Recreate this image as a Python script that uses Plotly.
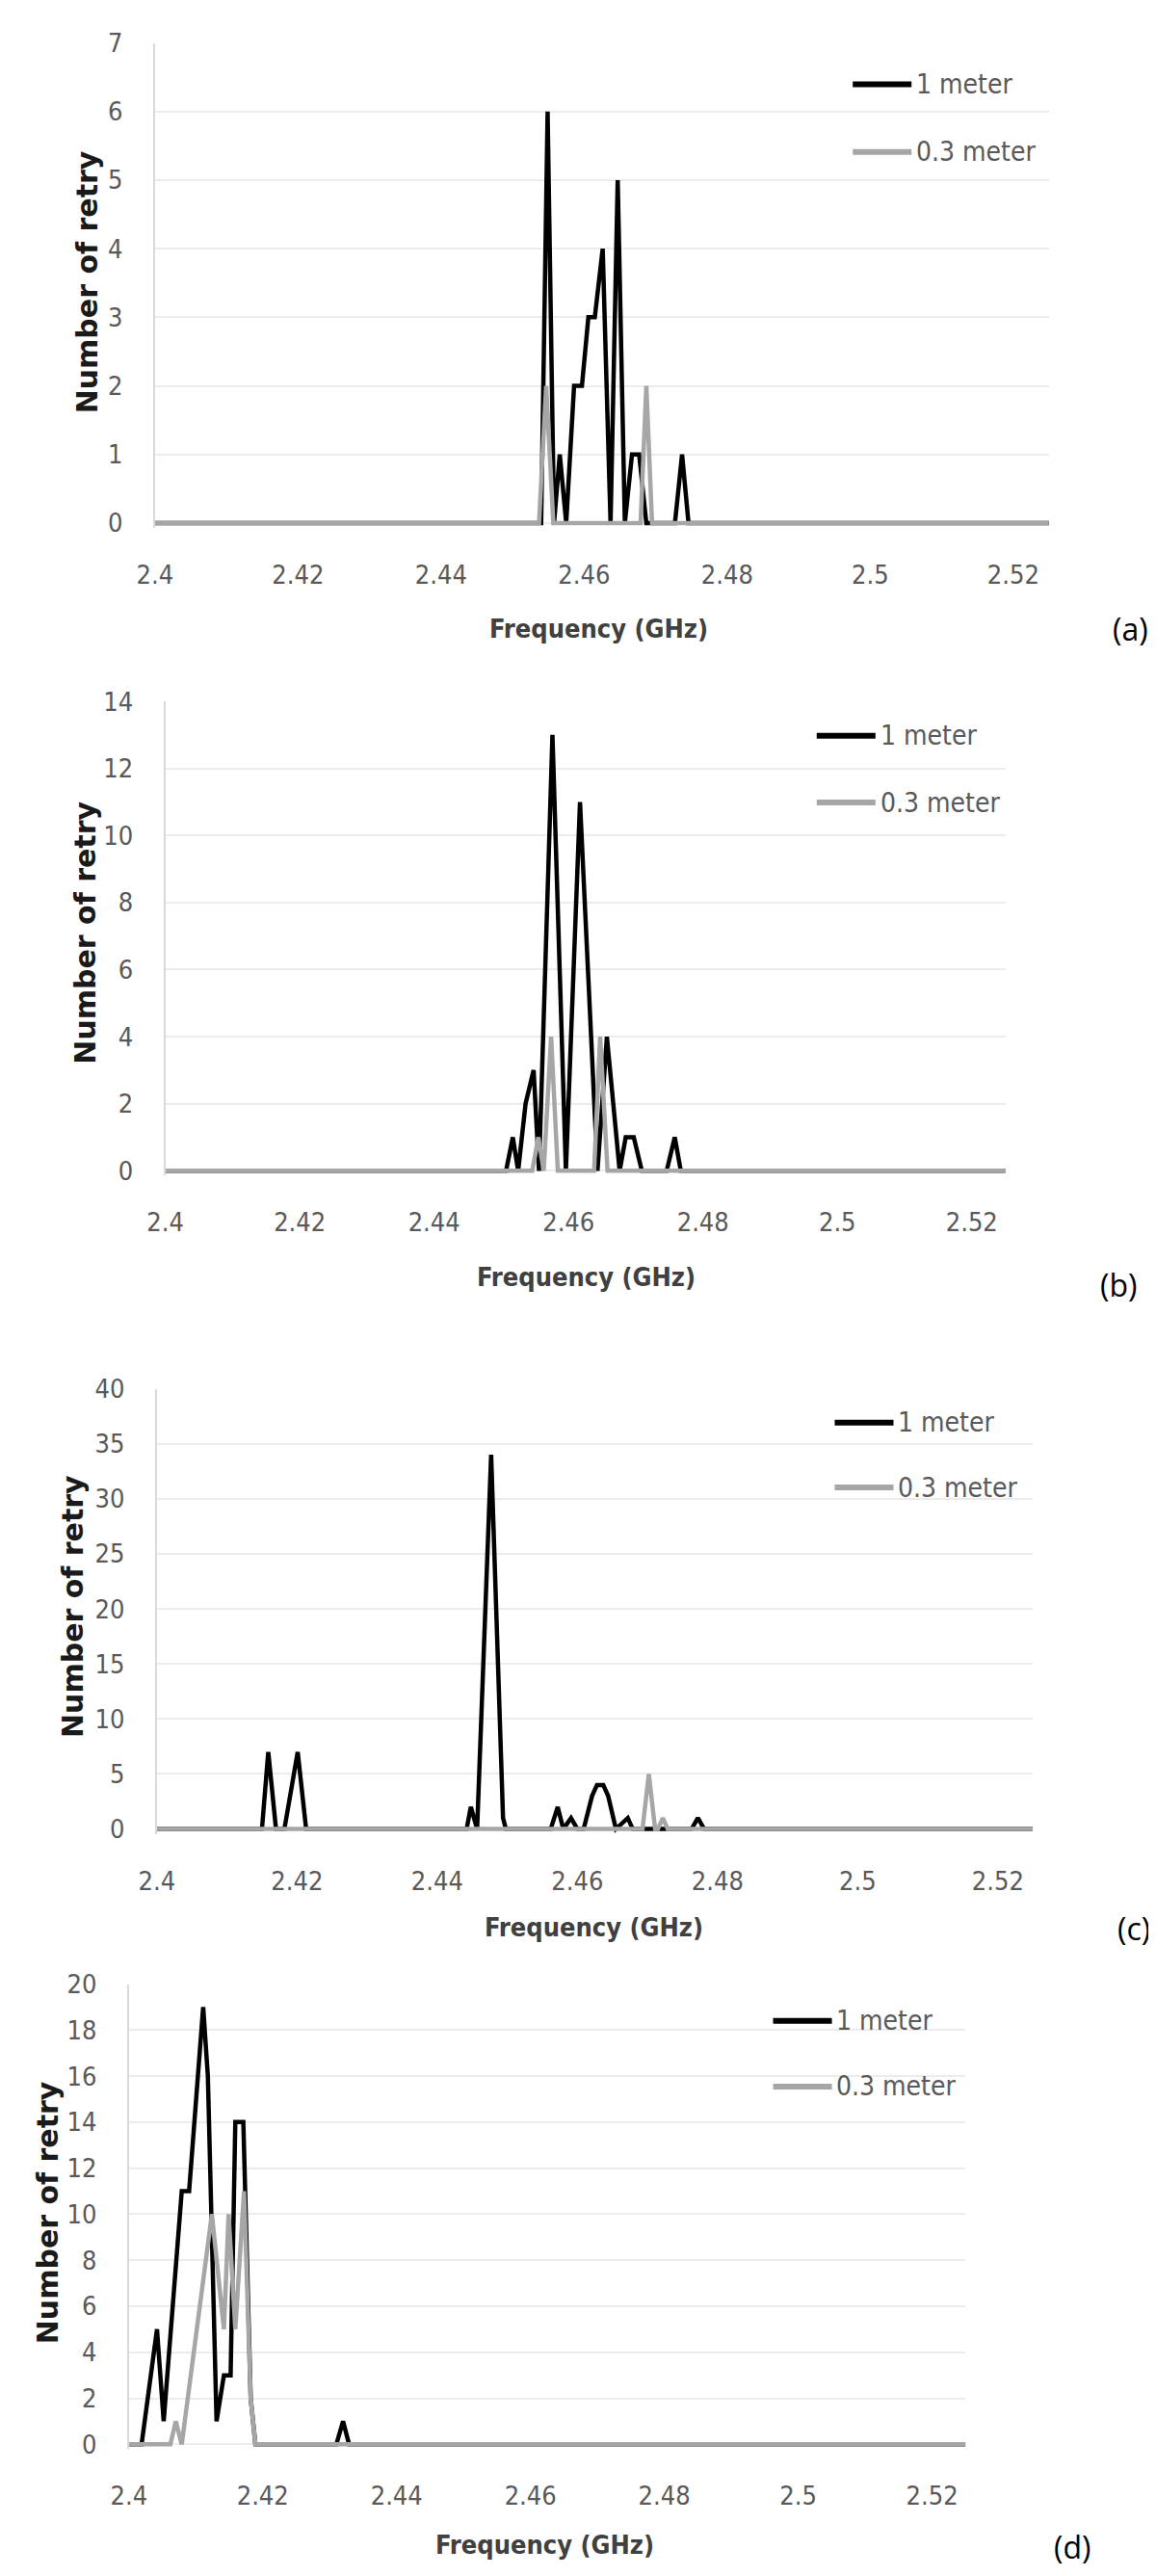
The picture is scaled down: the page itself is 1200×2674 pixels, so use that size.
import plotly.graph_objects as go

# ---------------- data ----------------
freq_ticks = [2.40, 2.42, 2.44, 2.46, 2.48, 2.50, 2.52]
freq_tick_labels = ["2.4", "2.42", "2.44", "2.46", "2.48", "2.5", "2.52"]
series_names = ["1 meter", "0.3 meter"]
panel_labels = ["(a)", "(b)", "(c)", "(d)"]
x_title = "Frequency (GHz)"
y_title = "Number of retry"

# (a)
a_freq_1m = [2.400, 2.4540, 2.4549, 2.4558, 2.4566, 2.4575, 2.4586, 2.4597, 2.4606, 2.4615,
             2.4626, 2.4637, 2.4647, 2.4657, 2.4667, 2.4677, 2.4687, 2.4727, 2.4737, 2.4746, 2.525]
a_retry_1m = [0, 0, 6, 0, 1, 0, 2, 2, 3, 3, 4, 0, 5, 0, 1, 1, 0, 0, 1, 0, 0]
a_freq_03m = [2.400, 2.4537, 2.4547, 2.4557, 2.4679, 2.4687, 2.4695, 2.525]
a_retry_03m = [0, 0, 2, 0, 0, 2, 0, 0]

# (b)
b_freq_1m = [2.400, 2.4507, 2.4517, 2.4525, 2.4536, 2.4548, 2.4556, 2.4576, 2.4596, 2.4617,
             2.4643, 2.4657, 2.4676, 2.4685, 2.4697, 2.4709, 2.4746, 2.4758, 2.4767, 2.525]
b_retry_1m = [0, 0, 1, 0, 2, 3, 0, 13, 0, 11, 0, 4, 0, 1, 1, 0, 0, 1, 0, 0]
b_freq_03m = [2.400, 2.4546, 2.4555, 2.4563, 2.4574, 2.4584, 2.4638, 2.4647, 2.4658, 2.525]
b_retry_03m = [0, 0, 1, 0, 4, 0, 0, 4, 0, 0]

# (c)
c_freq_1m = [2.400, 2.4150, 2.4159, 2.4170, 2.4182, 2.4201, 2.4213, 2.4442, 2.4448, 2.4457,
             2.4477, 2.4494, 2.4498, 2.4562, 2.4572, 2.4580, 2.4591, 2.4600, 2.4609, 2.4621,
             2.4628, 2.4637, 2.4644, 2.4655, 2.4672, 2.4679, 2.4763, 2.4772, 2.4781, 2.525]
c_retry_1m = [0, 0, 7, 0, 0, 7, 0, 0, 2, 0, 34, 1, 0, 0, 2, 0, 1, 0, 0, 3,
              4, 4, 3, 0, 1, 0, 0, 1, 0, 0]
c_freq_03m = [2.400, 2.4693, 2.4702, 2.4711, 2.4715, 2.4722, 2.4729, 2.525]
c_retry_03m = [0, 0, 5, 0, 0, 1, 0, 0]

# (d)
d_freq_1m = [2.400, 2.4019, 2.4042, 2.4052, 2.4079, 2.4090, 2.4111, 2.4118, 2.4131, 2.4142,
             2.4152, 2.4159, 2.4171, 2.4182, 2.4189, 2.4310, 2.4320, 2.4329, 2.525]
d_retry_1m = [0, 0, 5, 1, 11, 11, 19, 16, 1, 3, 3, 14, 14, 2, 0, 0, 1, 0, 0]
d_freq_03m = [2.400, 2.4062, 2.4070, 2.4079, 2.4124, 2.4142, 2.4149, 2.4159, 2.4172, 2.4182, 2.4189, 2.525]
d_retry_03m = [0, 0, 1, 0, 10, 5, 10, 5, 11, 2, 0, 0]

y_max = [7, 14, 40, 20]
y_step = [1, 2, 5, 2]

# ---------------- layout (pixel geometry of each panel) ----------------
W, H = 1200, 2674
NARROW = "Liberation Sans Narrow, Arial Narrow, DejaVu Sans Condensed, Roboto Condensed, Liberation Sans, sans-serif"
BLACK = "#000000"
GRAY = "#a6a6a6"

geom = [
    dict(L=136, R=1079, T=20.8, Z=524, legx=872, legy=(64, 135), yt=(64, 271), xt=(604, 635), pl=(1165, 635)),
    dict(L=147, R=1033, T=711, Z=1203, legx=834, legy=(747, 817), yt=(63, 954), xt=(591, 1314), pl=(1152, 1322)),
    dict(L=138, R=1062, T=1431.5, Z=1893, legx=853, legy=(1467, 1535), yt=(50, 1660), xt=(599, 1996), pl=(1168, 1997)),
    dict(L=108.5, R=991, T=2055.5, Z=2538, legx=788, legy=(2094, 2163), yt=(23, 2295), xt=(547, 2643), pl=(1103, 2645)),
]
data = [
    (a_freq_1m, a_retry_1m, a_freq_03m, a_retry_03m),
    (b_freq_1m, b_retry_1m, b_freq_03m, b_retry_03m),
    (c_freq_1m, c_retry_1m, c_freq_03m, c_retry_03m),
    (d_freq_1m, d_retry_1m, d_freq_03m, d_retry_03m),
]

fig = go.Figure()
layout = {}
annotations = []
shapes = []


def px(xp):
    return xp / W


def py(yp):
    return 1 - yp / H


for i, (g, (x1, y1, x2, y2)) in enumerate(zip(geom, data)):
    suf = "" if i == 0 else str(i + 1)
    fig.add_trace(go.Scatter(x=x1, y=y1, mode="lines", name=series_names[0],
                             line=dict(color=BLACK, width=4.5), showlegend=False,
                             xaxis="x" + suf, yaxis="y" + suf))
    fig.add_trace(go.Scatter(x=x2, y=y2, mode="lines", name=series_names[1],
                             line=dict(color=GRAY, width=4.5), showlegend=False,
                             xaxis="x" + suf, yaxis="y" + suf))
    pxu = (g["Z"] - g["T"]) / y_max[i]
    ymin = -5 / pxu
    bottom = g["Z"] + 5
    layout["xaxis" + suf] = dict(
        domain=[px(g["L"]), px(g["R"])], range=[2.4, 2.525], anchor="y" + suf,
        tickmode="array", tickvals=freq_ticks, ticktext=freq_tick_labels,
        showgrid=False, zeroline=False, showline=False, ticks="",
        ticklabelstandoff=30, tickfont=dict(family=NARROW, size=27, color="#595959"),
    )
    layout["yaxis" + suf] = dict(
        domain=[py(bottom), py(g["T"])], range=[ymin, y_max[i]], anchor="x" + suf,
        tick0=0, dtick=y_step[i], showgrid=True, gridcolor="#ececec", gridwidth=2,
        zeroline=False, showline=True, linecolor="#d9d9d9", linewidth=2, ticks="",
        ticklabelstandoff=26, tickfont=dict(family=NARROW, size=27, color="#595959"),
    )
    # axis titles
    annotations.append(dict(x=px(g["yt"][0]), y=py(g["yt"][1]), xref="paper", yref="paper",
                            text=y_title, textangle=-90, showarrow=False,
                            xanchor="center", yanchor="middle",
                            font=dict(family="DejaVu Sans", size=30, color="#1a1a1a", weight="bold")))
    annotations.append(dict(x=px(g["xt"][0]), y=py(g["xt"][1]), xref="paper", yref="paper",
                            text=x_title, showarrow=False, xanchor="center", yanchor="middle",
                            font=dict(family=NARROW, size=27, color="#404040", weight="bold")))
    # panel label
    annotations.append(dict(x=px(g["pl"][0]), y=py(g["pl"][1]), xref="paper", yref="paper",
                            text=panel_labels[i], showarrow=False, xanchor="center", yanchor="middle",
                            font=dict(family="Open Sans", size=32, color="#000000")))
    # legend (line sample + label)
    for k, (name, col) in enumerate(zip(series_names, [BLACK, GRAY])):
        yy = py(g["legy"][k])
        shapes.append(dict(type="line", xref="paper", yref="paper",
                           x0=px(g["legx"]), x1=px(g["legx"] + 62), y0=yy, y1=yy,
                           line=dict(color=col, width=6)))
        annotations.append(dict(x=px(g["legx"] + 65), y=yy, xref="paper", yref="paper",
                                text=name, showarrow=False, xanchor="left", yanchor="middle",
                                font=dict(family=NARROW, size=28, color="#595959")))

fig.update_layout(
    width=W, height=H, margin=dict(l=0, r=0, t=0, b=0),
    paper_bgcolor="white", plot_bgcolor="white",
    showlegend=False, annotations=annotations, shapes=shapes, **layout,
)

fig.write_html("out.html")
